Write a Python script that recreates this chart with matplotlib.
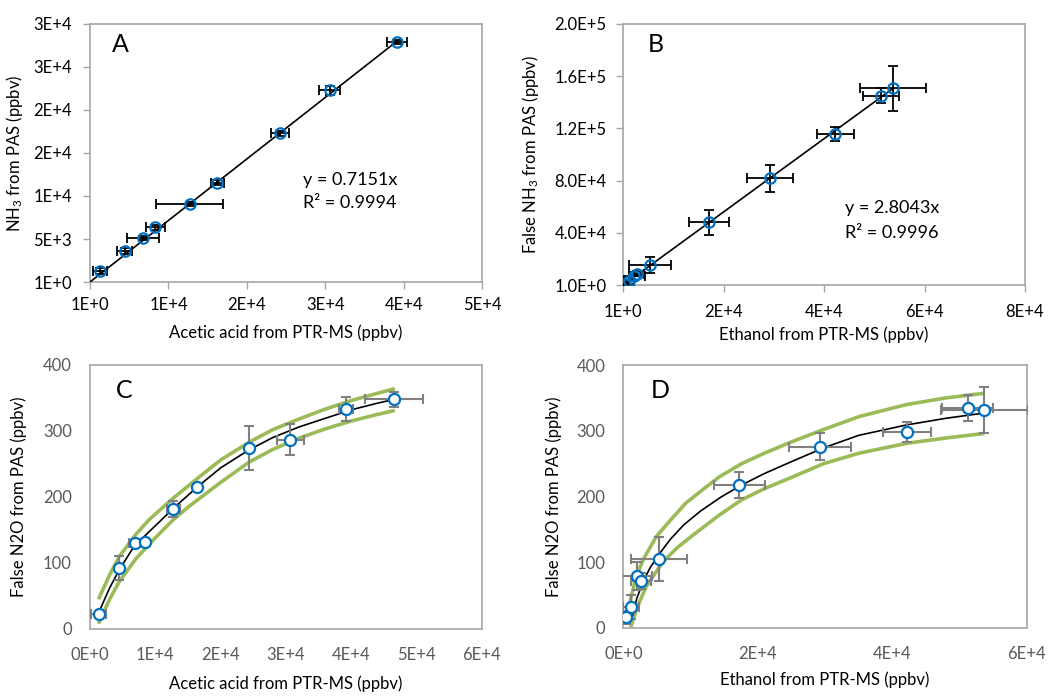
import matplotlib
matplotlib.use("Agg")
import matplotlib.pyplot as plt
from matplotlib.patches import Rectangle

plt.rcParams['font.family'] = ['Lato', 'DejaVu Sans']
plt.rcParams['mathtext.fontset'] = 'custom'
plt.rcParams['mathtext.rm'] = 'Lato'
plt.rcParams['mathtext.it'] = 'Lato:italic'

# ---- panel A: NH3 (PAS) vs acetic acid (PTR-MS)
a_x = [1280, 4400, 6750, 8330, 12700, 16240, 24270, 30560, 39190]
a_y = [1280, 3600, 5120, 6360, 9080, 11560, 17310, 22310, 27940]
a_xerr = [850, 950, 2070, 1200, 4300, 800, 1170, 1300, 1300]
a_yerr = [300, 300, 250, 300, 200, 250, 300, 520, 250]
a_slope = 0.7151
a_xticks = [0, 10000, 20000, 30000, 40000, 50000]
a_xlabels = ['1E+0', '1E+4', '2E+4', '3E+4', '4E+4', '5E+4']
a_yticks = [0, 5000, 10000, 15000, 20000, 25000, 30000]
a_ylabels = ['1E+0', '5E+3', '1E+4', '2E+4', '2E+4', '3E+4', '3E+4']

# ---- panel B: false NH3 (PAS) vs ethanol (PTR-MS)
b_x = [400, 1090, 2030, 2680, 5310, 17070, 29200, 42200, 51300, 53700]
b_y = [1000, 3400, 7200, 8800, 15300, 48000, 81700, 115700, 145100, 150700]
b_xerr = [400, 1000, 2300, 1500, 4100, 3900, 4600, 3650, 3650, 6500]
b_yerr = [1500, 2500, 3000, 2000, 6400, 9500, 10600, 5200, 5700, 17400]
b_slope = 2.8043
b_xticks = [0, 20000, 40000, 60000, 80000]
b_xlabels = ['1E+0', '2E+4', '4E+4', '6E+4', '8E+4']
b_yticks = [0, 40000, 80000, 120000, 160000, 200000]
b_ylabels = ['1.0E+0', '4.0E+4', '8.0E+4', '1.2E+5', '1.6E+5', '2.0E+5']

# ---- panel C: false N2O vs acetic acid
c_x = [1330, 4490, 6840, 8480, 12770, 16340, 24300, 30700, 39200, 46600]
c_y = [23, 92, 130, 132, 182, 215, 274, 287, 333, 348]
c_xerr = [1150, 300, 800, 300, 1000, 300, 300, 2100, 1100, 4400]
c_yerr = [3, 18, 5, 5, 12, 4, 33, 23, 18, 11]
c_fit_x = [1300, 3000, 4500, 6800, 8500, 12800, 16300, 20000, 24300, 28000, 32000, 36000, 40000, 44000, 46700]
c_fit_y = [24, 62, 90, 126, 142, 183, 214, 244, 271, 290, 306, 319, 332, 342, 348]
c_up_x = [1300, 3000, 4500, 7000, 9000, 12600, 16700, 20000, 24400, 28000, 32000, 36000, 40000, 44000, 46700]
c_up_y = [45, 82, 110, 143, 165, 197, 230, 256, 283, 302, 318, 333, 346, 357, 364]
c_lo_x = [1300, 3000, 4500, 7000, 9500, 12800, 15200, 20000, 24400, 28000, 32000, 36000, 40000, 44000, 46700]
c_lo_y = [8, 45, 72, 106, 133, 166, 186, 222, 253, 272, 289, 303, 315, 325, 331]
c_xticks = [0, 10000, 20000, 30000, 40000, 50000, 60000]
c_xlabels = ['0E+0', '1E+4', '2E+4', '3E+4', '4E+4', '5E+4', '6E+4']

# ---- panel D: false N2O vs ethanol
d_x = [400, 1090, 2030, 2680, 5300, 17250, 29250, 42200, 51200, 53700]
d_y = [16, 32, 79, 71, 105, 217, 276, 298, 335, 332]
d_xerr = [400, 1200, 2300, 1500, 4100, 3800, 4600, 3600, 3800, 6500]
d_yerr = [10, 18, 21, 12, 33, 20, 21, 15, 20, 35]
d_fit_x = [1200, 2000, 3000, 4000, 5300, 7000, 9000, 11500, 14500, 17500, 21000, 25000, 29800, 35000, 42200, 48000, 53700]
d_fit_y = [12, 45, 72, 92, 112, 135, 157, 178, 199, 217, 235, 253, 274, 293, 309, 319, 327]
d_up_x = [500, 1000, 1900, 3000, 4900, 7000, 9300, 12000, 14300, 17600, 21000, 25000, 29800, 35200, 42200, 48000, 53700]
d_up_y = [12, 40, 78, 105, 139, 164, 190, 212, 230, 250, 266, 283, 302, 322, 340, 350, 357]
d_lo_x = [1100, 2000, 3400, 5850, 8000, 10200, 14300, 17600, 21000, 25000, 29800, 35100, 42200, 48000, 53700]
d_lo_y = [1, 30, 63, 100, 122, 140, 172, 195, 212, 229, 250, 266, 281, 289, 296]
d_xticks = [0, 20000, 40000, 60000]
d_xlabels = ['0E+0', '2E+4', '4E+4', '6E+4']

n2o_yticks = [0, 100, 200, 300, 400]

blue = '#0070C0'
green = '#9BBB59'
frame = '#A6A6A6'

fig = plt.figure(figsize=(10.54, 6.97), dpi=100)

axA = fig.add_axes([0.0854, 0.5954, 0.3719, 0.3702])
axB = fig.add_axes([0.5914, 0.5911, 0.3811, 0.3745])
axC = fig.add_axes([0.0854, 0.0976, 0.3716, 0.3788])
axD = fig.add_axes([0.5914, 0.0990, 0.3827, 0.3773])

# white strip: the lower panels sit over the cut-off bottom of the upper ones
fig.add_artist(Rectangle((0, 0), 1, 0.5079, transform=fig.transFigure,
                         facecolor='white', edgecolor='none', zorder=1))
axC.set_zorder(2)
axD.set_zorder(2)

for ax in (axA, axB, axC, axD):
    for s in ax.spines.values():
        s.set_color(frame)
        s.set_linewidth(1.2)

# linear panels
for ax, x, y, xe, ye, k in ((axA, a_x, a_y, a_xerr, a_yerr, a_slope),
                            (axB, b_x, b_y, b_xerr, b_yerr, b_slope)):
    ax.errorbar(x, y, xerr=xe, yerr=ye, fmt='none', ecolor='black',
                elinewidth=1.3, capsize=3.5, capthick=1.3, zorder=3)
    ax.plot([0, max(x)], [0, k * max(x)], color='black', lw=1.2, zorder=4)
    ax.plot(x, y, 'o', mfc='none', mec=blue, ms=7.5, mew=1.6, zorder=5)
    ax.tick_params(direction='out', length=5, width=1, color=frame,
                   labelsize=12, labelcolor='black')

axA.set_xlim(0, 50000)
axA.set_ylim(0, 30000)
axA.set_xticks(a_xticks, a_xlabels)
axA.set_yticks(a_yticks, a_ylabels)
axA.tick_params(axis='y', pad=8)
axA.tick_params(axis='x', pad=6)
axA.set_xlabel('Acetic acid from PTR-MS (ppbv)', fontsize=12)
axA.set_ylabel('NH$_3$ from PAS (ppbv)', fontsize=12)
axA.xaxis.set_label_coords(0.5, -0.165)
axA.yaxis.set_label_coords(-0.166, 0.5)
axA.text(0.056, 0.919, 'A', transform=axA.transAxes, fontsize=18, va='center')
axA.text(0.543, 0.395, 'y = 0.7151x', transform=axA.transAxes, fontsize=13, va='center')
axA.text(0.543, 0.306, 'R² = 0.9994', transform=axA.transAxes, fontsize=13, va='center')

axB.set_xlim(0, 80000)
axB.set_ylim(0, 200000)
axB.set_xticks(b_xticks, b_xlabels)
axB.set_yticks(b_yticks, b_ylabels)
axB.tick_params(axis='y', pad=7)
axB.tick_params(axis='x', pad=9)
axB.set_xlabel('Ethanol from PTR-MS (ppbv)', fontsize=12)
axB.set_ylabel('False NH$_3$ from PAS (ppbv)', fontsize=12)
axB.xaxis.set_label_coords(0.5, -0.16)
axB.yaxis.set_label_coords(-0.204, 0.5)
axB.text(0.06, 0.92, 'B', transform=axB.transAxes, fontsize=18, va='center')
axB.text(0.552, 0.295, 'y = 2.8043x', transform=axB.transAxes, fontsize=13, va='center')
axB.text(0.552, 0.199, 'R² = 0.9996', transform=axB.transAxes, fontsize=13, va='center')

# saturation panels
for ax, x, y, xe, ye, fx, fy, ux, uy, lx, ly in (
        (axC, c_x, c_y, c_xerr, c_yerr, c_fit_x, c_fit_y, c_up_x, c_up_y, c_lo_x, c_lo_y),
        (axD, d_x, d_y, d_xerr, d_yerr, d_fit_x, d_fit_y, d_up_x, d_up_y, d_lo_x, d_lo_y)):
    ax.plot(ux, uy, color=green, lw=2.6, zorder=2, solid_capstyle='butt')
    ax.plot(lx, ly, color=green, lw=2.6, zorder=2, solid_capstyle='butt')
    ax.plot(fx, fy, color='black', lw=1.2, zorder=3)
    ax.errorbar(x, y, xerr=xe, yerr=ye, fmt='none', ecolor='#808080',
                elinewidth=1.5, capsize=3.5, capthick=1.5, zorder=4)
    ax.plot(x, y, 'o', mfc='white', mec=blue, ms=8, mew=1.6, zorder=5)
    ax.set_ylim(0, 400)
    ax.set_xlim(0, 60000)
    ax.set_yticks(n2o_yticks)
    ax.tick_params(length=0, pad=13, labelsize=12, labelcolor='#595959')
    ax.set_ylabel('False N2O from PAS (ppbv)', fontsize=12)

axC.set_xticks(c_xticks, c_xlabels)
axC.set_xlabel('Acetic acid from PTR-MS (ppbv)', fontsize=12)
axC.xaxis.set_label_coords(0.5, -0.175)
axC.yaxis.set_label_coords(-0.161, 0.5)
axC.text(0.066, 0.905, 'C', transform=axC.transAxes, fontsize=18, va='center')

axD.set_xticks(d_xticks, d_xlabels)
axD.set_xlabel('Ethanol from PTR-MS (ppbv)', fontsize=12)
axD.xaxis.set_label_coords(0.5, -0.165)
axD.yaxis.set_label_coords(-0.151, 0.5)
axD.text(0.067, 0.905, 'D', transform=axD.transAxes, fontsize=18, va='center')

fig.savefig('out.png', dpi=100)
